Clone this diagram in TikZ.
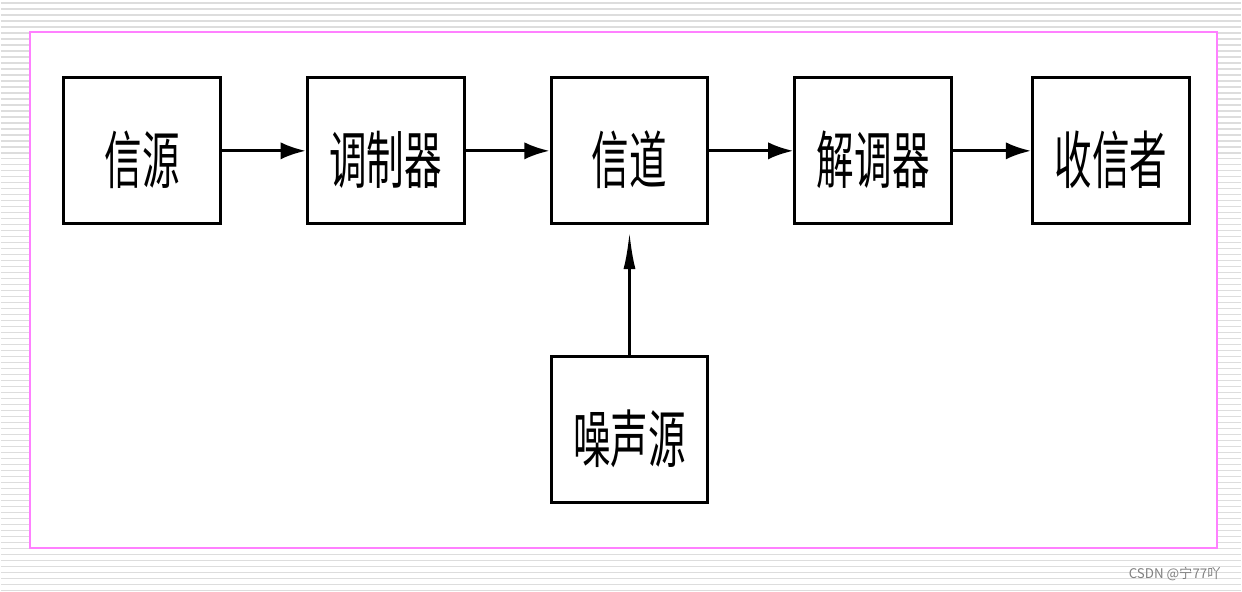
\documentclass[tikz,border=0pt]{standalone}
\usepackage{fontspec}
\newfontfamily\cjk[FakeStretch=0.6]{Noto Sans CJK SC}
\newfontfamily\cjkmark{Noto Sans CJK SC}
\usepackage{xcolor}
\definecolor{framepink}{HTML}{FF80FF}
\definecolor{stripegray}{HTML}{DDDDDD}
\usetikzlibrary{arrows.meta,positioning}

\begin{document}
\begin{tikzpicture}[
      x=0.75pt, y=-0.75pt,
      block/.style={draw, line width=2.25pt, minimum width=117.75pt, minimum height=109.5pt, inner sep=0pt, text height=55pt, text depth=5.6pt, font=\cjk\fontsize{47}{50}\selectfont},
      flow/.style={line width=2.25pt, -{Latex[length=19pt,width=13pt]}},
      rise/.style={line width=2.25pt, -{Latex[length=28pt,width=9pt]}, shorten >=5pt},
      node distance=63pt
    ]
    % background
    \fill[white] (0,0) rectangle (1242,591);
    \foreach \y in {3,9,...,591} { \draw[stripegray, line width=1pt] (0,\y) -- (1242,\y); }
    \useasboundingbox (0,0) rectangle (1242,591);
    \draw[framepink, fill=white, line width=1.6pt] (29,32) rectangle (1218,549);

    \node[block] (src) at (141.5,151) {信源};
    \node[block, right=of src] (mod) {调制器};
    \node[block, right=of mod] (chan) {信道};
    \node[block, right=of chan] (demod) {解调器};
    \node[block, right=58.5pt of demod] (sink) {收信者};
    \node[block, below=97.5pt of chan] (noise) {噪声源};

    \draw[flow] (src) -- (mod);
    \draw[flow] (mod) -- (chan);
    \draw[flow] (chan) -- (demod);
    \draw[flow] (demod) -- (sink);
    \draw[rise] (noise) -- (chan);

    \node[text=gray, font=\cjkmark\fontsize{10}{11}\selectfont, anchor=east] (mark) at (1226,575) {CSDN @宁77吖};
  \end{tikzpicture}
\end{document}
